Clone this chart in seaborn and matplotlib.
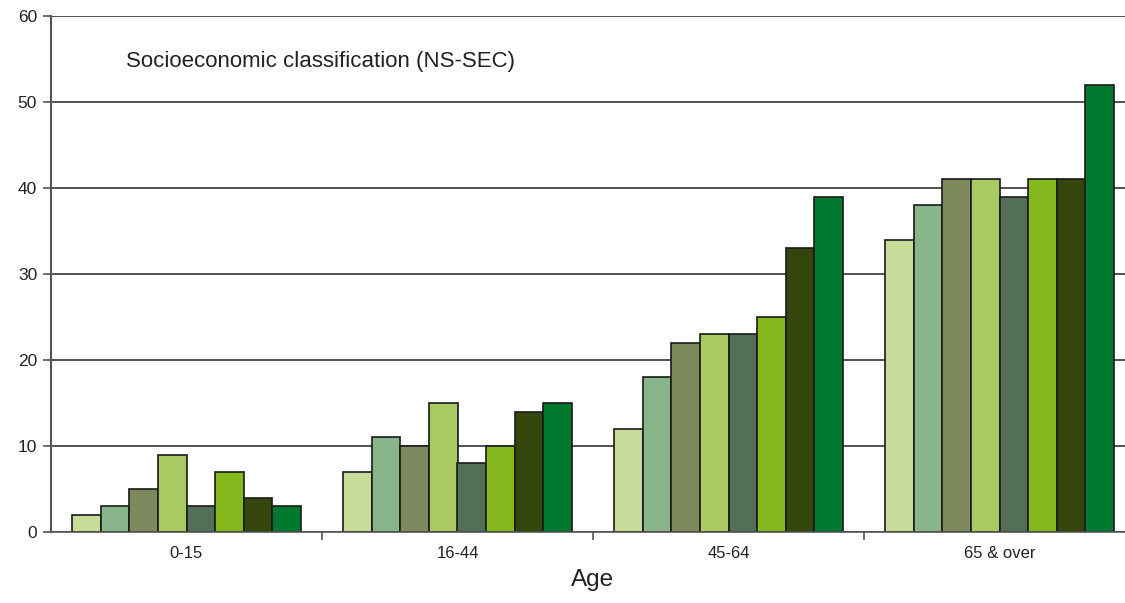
import matplotlib
matplotlib.use("Agg")
import matplotlib.pyplot as plt
import seaborn as sns
import pandas as pd

ages = ["0-15", "16-44", "45-64", "65 & over"]
classes = ["Class 1", "Class 2", "Class 3", "Class 4", "Class 5", "Class 6", "Class 7", "Class 8"]
class1 = [2, 7, 12, 34]
class2 = [3, 11, 18, 38]
class3 = [5, 10, 22, 41]
class4 = [9, 15, 23, 41]
class5 = [3, 8, 23, 39]
class6 = [7, 10, 25, 41]
class7 = [4, 14, 33, 41]
class8 = [3, 15, 39, 52]
series = [class1, class2, class3, class4, class5, class6, class7, class8]
colors = ["#c8dc9a", "#88b68a", "#7e8a5e", "#a9c963", "#536f55", "#84b81c", "#34460c", "#00782e"]
yticks = [0, 10, 20, 30, 40, 50, 60]

rows = []
for cls, vals in zip(classes, series):
    for a, v in zip(ages, vals):
        rows.append({"Age": a, "Class": cls, "Value": v})
df = pd.DataFrame(rows)

sns.set_theme(style="white")
plt.rcParams['font.family'] = ['Liberation Sans', 'DejaVu Sans']

fig = plt.figure(figsize=(11.25, 6.03), dpi=100)
ax = fig.add_axes([51/1125, 1 - 532/603, 1084/1125, 516/603])

sns.barplot(data=df, x="Age", y="Value", hue="Class", order=ages, hue_order=classes,
            palette=colors, width=0.845, edgecolor="#1a1a1a", linewidth=1.2,
            saturation=1, legend=False, ax=ax, errorbar=None)

ax.set_xlim(-0.5, 3.5)
ax.set_ylim(0, 60)
ax.set_yticks(yticks)
ax.set_yticklabels([str(t) for t in yticks], fontsize=12.5, color="#222222")
ax.yaxis.grid(True, color="#222222", linewidth=1.1)
ax.set_axisbelow(True)
for s in ["top", "right"]:
    ax.spines[s].set_visible(False)
ax.spines["left"].set_color("#555555")
ax.spines["left"].set_linewidth(1.5)
ax.spines["bottom"].set_color("#555555")
ax.spines["bottom"].set_linewidth(1.2)

ax.set_xticks(range(len(ages)))
ax.set_xticklabels(ages, fontsize=12, color="#222222")
ax.tick_params(axis="x", which="major", length=0, pad=10)
ax.set_xticks([0.5, 1.5, 2.5, 3.5], minor=True)
ax.tick_params(axis="x", which="minor", length=6, width=1.2, color="#555555", bottom=True)
ax.tick_params(axis="y", length=6, width=1.2, color="#555555", left=True, pad=4)

ax.set_xlabel("Age", fontsize=17.5, color="#222222", labelpad=6)
ax.set_ylabel("")
ax.text((126-51)/1084, 1 - (62-16)/516, "Socioeconomic classification (NS-SEC)", transform=ax.transAxes,
        fontsize=16, color="#222222", va="center", ha="left")

fig.savefig("out.png", dpi=100)
